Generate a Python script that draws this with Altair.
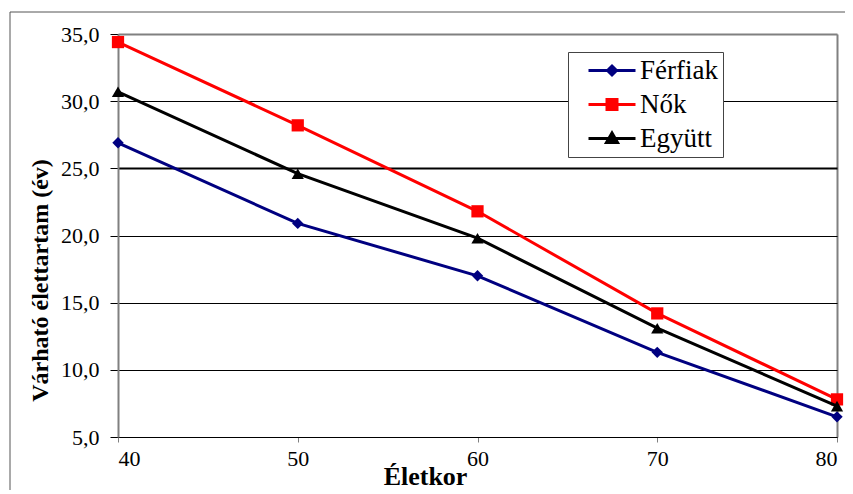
import altair as alt
import pandas as pd

# ---- data ----
ages = [40, 50, 60, 70, 80]
series_names = ["Férfiak", "Nők", "Együtt"]
ferfiak = [26.9, 20.9, 17.0, 11.3, 6.5]
nok = [34.4, 28.2, 21.8, 14.2, 7.8]
egyutt = [30.7, 24.6, 19.8, 13.1, 7.3]
y_ticks = [5, 10, 15, 20, 25, 30, 35]
x_ticks = [40, 50, 60, 70, 80]

rows = []
for name, vals in zip(series_names, [ferfiak, nok, egyutt]):
    for a, v in zip(ages, vals):
        rows.append({"age": a, "value": v, "series": name})
df = pd.DataFrame(rows)

colors = ["#000080", "#FF0000", "#000000"]
markers = [("diamond", 130), ("square", 150), ("triangle-up", 150)]
legend_paths = [
    "M2,0H49M21,0L25.5,-4.5L30,0L25.5,4.5Z",
    "M2,0H49M20.5,-5H30.5V5H20.5Z",
    "M2,0H49M20,4L25.5,-5.5L31,4Z",
]
serif = "Liberation Serif"

x_enc = alt.X(
    "age:Q",
    scale=alt.Scale(domain=[40, 80], nice=False, zero=False),
    axis=alt.Axis(
        values=x_ticks, title="Életkor", format="d",
        grid=True,
        gridColor=alt.condition("datum.value == 80", alt.value("#808080"), alt.value("transparent")),
        gridWidth=2,
        domainColor="black", domainWidth=1,
        tickColor="#808080", tickSize=5, labelPadding=6,
        labelFont=serif, labelFontSize=22, labelColor="black",
        titleFont=serif, titleFontSize=26, titleFontWeight="bold", titleColor="black",
        titleX=307, titleY=47, titleAlign="center", titleBaseline="alphabetic",
    ),
)
y_enc = alt.Y(
    "value:Q",
    scale=alt.Scale(domain=[5, 35], nice=False, zero=False),
    axis=alt.Axis(
        values=y_ticks, title="Várható élettartam (év)",
        labelExpr="replace(format(datum.value, '.1f'), '.', ',')",
        grid=True,
        gridColor=alt.condition("datum.value == 35", alt.value("#808080"), alt.value("black")),
        gridWidth=alt.condition("datum.value == 25 || datum.value == 35", alt.value(2), alt.value(1)),
        domainColor="#808080", domainWidth=2,
        tickColor="black", tickSize=8, labelPadding=11,
        labelFont=serif, labelFontSize=22, labelColor="black",
        titleFont=serif, titleFontSize=24, titleFontWeight="bold", titleColor="black",
        titleX=-78, titleY=246, titleAngle=270, titleAlign="center", titleBaseline="middle",
    ),
)

layers = []
for name, col, (shp, sz) in zip(series_names, colors, markers):
    layers.append(
        alt.Chart(df)
        .transform_filter(alt.datum.series == name)
        .mark_line(
            color=col, strokeWidth=3,
            point=alt.OverlayMarkDef(shape=shp, size=sz, filled=True, color=col, opacity=1),
        )
        .encode(x=x_enc, y=y_enc)
    )

leg = alt.Legend(
    title=None, orient="none", legendX=450, legendY=18, padding=5, rowPadding=6,
    symbolSize=4, symbolStrokeWidth=3, labelOffset=40,
    labelFont=serif, labelFontSize=27, labelColor="black",
    strokeColor="#444444", fillColor="white",
    labelExpr="datum.label + '\u00a0\u00a0\u00a0\u00a0'",
)
legend_layer = (
    alt.Chart(df)
    .transform_filter("datum.age < 0")
    .mark_point(filled=True, opacity=1)
    .encode(
        x=x_enc, y=y_enc,
        color=alt.Color("series:N", scale=alt.Scale(domain=series_names, range=colors), legend=leg),
        stroke=alt.Stroke("series:N", scale=alt.Scale(domain=series_names, range=colors), legend=leg),
        shape=alt.Shape("series:N", scale=alt.Scale(domain=series_names, range=legend_paths), legend=leg),
    )
)

one = pd.DataFrame({"k": [0]})
frame_top = alt.Chart(one).mark_rule(color="#555555", strokeWidth=1).encode(
    x=alt.value(-108), x2=alt.value(727), y=alt.value(-22)
)
frame_left = alt.Chart(one).mark_rule(color="#555555", strokeWidth=1).encode(
    x=alt.value(-108), y=alt.value(-22), y2=alt.value(456)
)

chart = (
    alt.layer(*layers, legend_layer, frame_top, frame_left)
    .properties(
        width=719, height=403,
        autosize=alt.AutoSizeParams(type="none"),
        padding={"left": 110, "top": 26, "right": 8, "bottom": 53},
    )
    .configure_view(stroke="transparent")
    .configure(background="white", font=serif)
)

chart.save("out.html", embed_options={"renderer": "svg", "actions": False})
